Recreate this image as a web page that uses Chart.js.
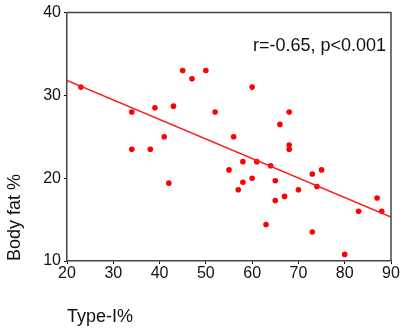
<!DOCTYPE html>
<html>
<head>
<meta charset="utf-8">
<title>Body fat vs Type-I%</title>
<script src="https://cdn.jsdelivr.net/npm/chart.js@4.4.1/dist/chart.umd.min.js"></script>
<style>
    html, body { margin: 0; padding: 0; background: #fff; }
    #wrap { position: relative; width: 406px; height: 332px; }
</style>
</head>
<body>
<div id="wrap"><canvas id="fatChart" width="406" height="332"></canvas></div>
<script>
// Data
const typeI   = [23, 34, 39, 43, 45, 47, 50, 52, 41, 56, 60, 68, 66, 34, 38, 42, 55, 57, 68, 68,
                 58, 61, 64, 58, 60, 65, 65, 67, 63, 70, 73, 75, 74, 73, 80, 83, 87, 88];
const bodyFat = [31, 28, 28.5, 28.7, 33, 32, 33, 28, 25, 25, 31, 28, 26.5, 23.5, 23.5, 19.4, 21, 18.6, 24, 23.5,
                 22, 22, 21.5, 19.5, 20, 19.7, 17.3, 17.8, 14.4, 18.6, 20.5, 21, 19, 13.5, 10.8, 16, 17.6, 16];

// Regression line end points
const fitX = [20, 90];
const fitY = [31.8, 15.3];

const xTicks = [20, 30, 40, 50, 60, 70, 80, 90];
const yTicks = [10, 20, 30, 40];

const statText = 'r=-0.65, p<0.001';
const FONT = '"Liberation Sans", Arial, Helvetica, sans-serif';

// Draws the top/right frame and the r/p note
const framePlugin = {
    id: 'frame',
    afterDraw(chart) {
        const ctx = chart.ctx;
        const a = chart.chartArea;
        ctx.save();
        ctx.strokeStyle = '#444';
        ctx.lineWidth = 1.5;
        ctx.beginPath();
        ctx.moveTo(a.left, a.top);
        ctx.lineTo(a.right, a.top);
        ctx.lineTo(a.right, a.bottom);
        ctx.stroke();

        ctx.fillStyle = '#111';
        ctx.font = '18px ' + FONT;
        ctx.textAlign = 'right';
        ctx.textBaseline = 'middle';
        ctx.fillText(statText, a.right - 5, a.top + 33);
        ctx.restore();
    }
};

function initFatChart() {
    const ctx = document.getElementById('fatChart');

    new Chart(ctx, {
        type: 'scatter',
        data: {
            datasets: [{
                type: 'line',
                data: fitX.map((x, i) => ({ x: x, y: fitY[i] })),
                borderColor: '#ff1a1a',
                borderWidth: 1.5,
                pointRadius: 0,
                fill: false
            }, {
                data: typeI.map((x, i) => ({ x: x, y: bodyFat[i] })),
                backgroundColor: '#ff0000',
                borderWidth: 0,
                pointRadius: 2.8
            }]
        },
        options: {
            responsive: false,
            animation: false,
            layout: { padding: { left: 0, right: 15, top: 10, bottom: 0 } },
            plugins: {
                legend: { display: false },
                tooltip: { enabled: false }
            },
            scales: {
                x: {
                    type: 'linear',
                    min: xTicks[0],
                    max: xTicks[xTicks.length - 1],
                    afterBuildTicks: s => { s.ticks = xTicks.map(v => ({ value: v })); },
                    afterFit: s => { s.height = 71; },
                    border: { color: '#444', width: 1.5 },
                    grid: { drawOnChartArea: false, tickLength: 3, color: '#000' },
                    ticks: { color: '#111', font: { family: FONT, size: 16 }, padding: 0, maxRotation: 0 },
                    title: {
                        display: true, text: 'Type-I%', align: 'start',
                        color: '#111', font: { family: FONT, size: 18 },
                        padding: { top: 0, bottom: 4 }
                    }
                },
                y: {
                    type: 'linear',
                    min: yTicks[0],
                    max: yTicks[yTicks.length - 1],
                    afterBuildTicks: s => { s.ticks = yTicks.map(v => ({ value: v })); },
                    afterFit: s => { s.width = 67; },
                    border: { color: '#444', width: 1.5 },
                    grid: { drawOnChartArea: false, tickLength: 3, color: '#000' },
                    ticks: { color: '#111', font: { family: FONT, size: 16 }, padding: 3 },
                    title: {
                        display: true, text: 'Body fat %', align: 'start',
                        color: '#111', font: { family: FONT, size: 18 },
                        padding: { top: 4, bottom: 0 }
                    }
                }
            }
        },
        plugins: [framePlugin]
    });
}

document.addEventListener('DOMContentLoaded', initFatChart);
</script>
</body>
</html>
